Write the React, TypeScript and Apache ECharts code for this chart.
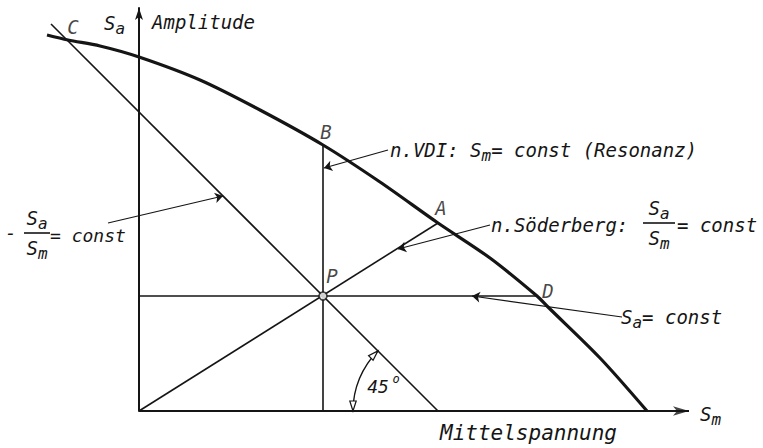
import { useEffect, useRef } from "react";
import * as echarts from "echarts";

// Fatigue limit boundary: mean stress Sm (x) against stress amplitude Sa (y), plot units
const limitSm = [-92, -71, -39, 0, 61, 121, 184, 241, 299, 351, 398, 409, 461, 508];
const limitSa = [376, 371, 365, 354, 331, 301, 266, 229, 188, 153, 115, 104, 53, 0];

// Working point P and the boundary points reached by each load path
const pointP: [number, number] = [184, 115];
const pointA: [number, number] = [299, 188]; // Söderberg: Sa/Sm = const
const pointB: [number, number] = [184, 266]; // VDI: Sm = const
const pointC: [number, number] = [-71, 370]; // -Sa/Sm = const
const pointD: [number, number] = [398, 115]; // Sa = const

// 45° load path through P
const line45Start: [number, number] = [-88, 387];
const line45End: [number, number] = [299, 0];

const axisMinSm = -100;
const axisMaxSm = 556;
const axisMaxSa = 403;

// Leader lines from each caption to its load path: [caption end, arrow tip]
const leaderVDI = [[249, 261], [185, 243]];
const leaderSoderberg = [[351, 186], [259, 162]];
const leaderSaConst = [[483, 94], [333, 115]];
const leaderRatio = [[-31, 188], [84, 215]];

const FONT = '"DejaVu Sans Mono", "Liberation Mono", monospace';
const INK = "#151515";

const RICH = {
  t: { fontSize: 19, fontStyle: "italic", fontFamily: FONT, fill: INK, color: INK, lineHeight: 26 },
  s: { fontSize: 16, fontStyle: "italic", fontFamily: FONT, fill: INK, color: INK, lineHeight: 16, verticalAlign: "bottom" },
};

const txt = (x: number, y: number, text: string, align = "left", size = 19) => ({
  type: "text",
  x,
  y,
  silent: true,
  style: {
    text,
    rich: RICH,
    fill: INK,
    fontFamily: FONT,
    fontSize: size,
    fontStyle: "italic",
    align,
    verticalAlign: "middle",
    textAlign: align,
    textVerticalAlign: "middle",
  },
});

const bar = (x1: number, x2: number, y: number) => ({
  type: "line",
  silent: true,
  shape: { x1, y1: y, x2, y2: y },
  style: { stroke: INK, lineWidth: 1.6 },
});

const fraction = (cx: number, y: number, halfWidth: number) => [
  txt(cx, y - 15, "{t|S}{s|a}", "center"),
  bar(cx - halfWidth, cx + halfWidth, y),
  txt(cx, y + 15, "{t|S}{s|m}", "center"),
];

const pathLine = (data: [number, number][], width: number) => ({
  type: "line",
  data,
  symbol: "none",
  silent: true,
  lineStyle: { color: INK, width },
  z: 3,
});

export default function App() {
  const ref = useRef<HTMLDivElement>(null);

  useEffect(() => {
    if (!ref.current) return;
    const chart = echarts.init(ref.current, undefined, { renderer: "svg" });

    const leaders = [leaderVDI, leaderSoderberg, leaderSaConst, leaderRatio].map((l) => [
      { coord: l[0] },
      { coord: l[1] },
    ]);

    const pointLabel = (value: [number, number], name: string, off: [number, number]) => ({
      value,
      name,
      label: { position: off },
    });

    chart.setOption({
      animation: false,
      backgroundColor: "#ffffff",
      grid: { left: 39, top: 8, width: axisMaxSm - axisMinSm, height: axisMaxSa },
      xAxis: {
        type: "value",
        min: axisMinSm,
        max: axisMaxSm,
        axisLine: { show: false },
        axisTick: { show: false },
        axisLabel: { show: false },
        splitLine: { show: false },
      },
      yAxis: {
        type: "value",
        min: 0,
        max: axisMaxSa,
        axisLine: {
          show: true,
          onZero: true,
          symbol: ["none", "arrow"],
          symbolSize: [6, 12],
          lineStyle: { color: INK, width: 2 },
        },
        axisTick: { show: false },
        axisLabel: { show: false },
        splitLine: { show: false },
      },
      series: [
        // Sm axis, starting at the Sa axis, with its arrowhead
        pathLine([[0, 0], [axisMaxSm - 6, 0]], 2),
        {
          type: "scatter",
          data: [[axisMaxSm - 6, 0]],
          symbol: "arrow",
          symbolSize: [7, 16],
          symbolRotate: -90,
          silent: true,
          itemStyle: { color: INK },
          z: 3,
        },
        {
          type: "line",
          data: limitSm.map((x, i) => [x, limitSa[i]]),
          smooth: 0.3,
          symbol: "none",
          silent: true,
          lineStyle: { color: INK, width: 3.2 },
          z: 4,
        },
        pathLine([line45Start, line45End], 1.6),
        pathLine([[0, 0], pointA], 1.6),
        pathLine([pointB, [pointB[0], 0]], 1.6),
        pathLine([[0, pointP[1]], pointD], 1.6),
        {
          type: "line",
          data: [],
          silent: true,
          markLine: {
            silent: true,
            symbol: ["none", "arrow"],
            symbolSize: 8,
            label: { show: false },
            lineStyle: { color: INK, width: 1.2, type: "solid" },
            emphasis: { disabled: true },
            data: leaders,
          },
        },
        {
          type: "scatter",
          symbolSize: 0,
          silent: true,
          label: {
            show: true,
            formatter: "{b}",
            color: INK,
            fontFamily: FONT,
            fontStyle: "italic",
            fontSize: 19,
            align: "center",
            verticalAlign: "middle",
          },
          data: [
            pointLabel(pointC, "C", [5, -14]),
            pointLabel(pointB, "B", [3, -13]),
            pointLabel(pointA, "A", [3, -15]),
            pointLabel(pointD, "D", [11, -5]),
            pointLabel(pointP, "P", [9, -20]),
          ],
          z: 5,
        },
        {
          type: "scatter",
          data: [pointP],
          symbol: "circle",
          symbolSize: 8,
          silent: true,
          itemStyle: { color: "#ffffff", borderColor: INK, borderWidth: 1.6 },
          z: 6,
        },
      ],
    });

    // 45° angle marker between the load path and the Sm axis
    const [cx, cy] = chart.convertToPixel({ gridIndex: 0 }, line45End) as number[];
    const r = 85;
    const a0 = Math.PI;
    const a1 = (Math.PI * 5) / 4;
    const head = (theta: number, dx: number, dy: number) => {
      const tx = cx + r * Math.cos(theta);
      const ty = cy + r * Math.sin(theta);
      const L = 10;
      const w = 3.2;
      const bx = tx - dx * L;
      const by = ty - dy * L;
      return {
        type: "polygon",
        silent: true,
        shape: {
          points: [
            [tx, ty],
            [bx - dy * w, by + dx * w],
            [bx + dy * w, by - dx * w],
          ],
        },
        style: { fill: "#ffffff", stroke: INK, lineWidth: 1.2 },
      };
    };

    chart.setOption({
      graphic: [
        {
          type: "arc",
          silent: true,
          shape: { cx, cy, r, startAngle: a0, endAngle: a1, clockwise: true },
          style: { stroke: INK, lineWidth: 1.4, fill: "none" },
        },
        head(a0, Math.sin(a0), -Math.cos(a0)),
        head(a1, -Math.sin(a1), Math.cos(a1)),
        txt(378, 386, "45", "center", 18),
        txt(396, 379, "o", "center", 12),

        txt(104, 23, "{t|S}{s|a}"),
        txt(152, 22, "Amplitude"),
        txt(700, 414, "{t|S}{s|m}"),
        txt(440, 433, "Mittelspannung", "left", 21),

        txt(390, 150, "{t|n.VDI: S}{s|m}{t|= const (Resonanz)}"),

        txt(491, 225, "n.Söderberg:"),
        ...fraction(659, 223, 16),
        txt(677, 225, "= const"),

        txt(621, 317, "{t|S}{s|a}{t|= const}"),

        txt(5, 233, "-"),
        ...fraction(37, 233, 13),
        txt(50, 235, "= const", "left", 18),
      ],
    });

    return () => chart.dispose();
  }, []);

  return (
    <div
      ref={ref}
      style={{ position: "fixed", left: 0, top: 0, width: 763, height: 448, background: "#fff" }}
    />
  );
}
